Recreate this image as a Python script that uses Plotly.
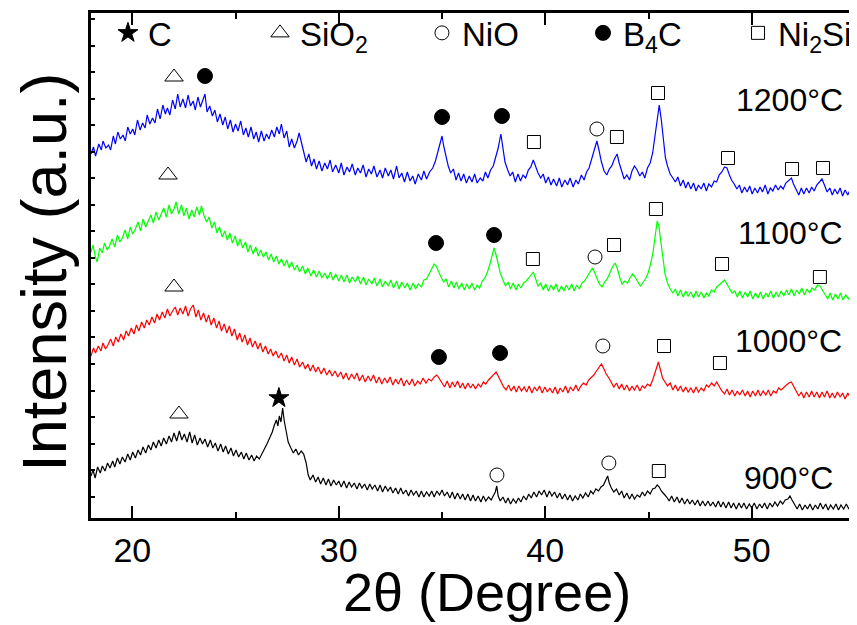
import plotly.graph_objects as go

# ---- XRD traces: (2theta in degrees, intensity in a.u.) ----
S1200 = [(18.00,364),(18.12,371),(18.22,362),(18.38,374),(18.50,368),(18.58,377),(18.72,370),(18.85,373),(18.95,368),(19.08,382),
(19.18,374),(19.30,386),(19.42,379),(19.55,383),(19.66,377),(19.78,391),(19.90,384),(20.02,389),(20.12,383),(20.25,398),
(20.38,388),(20.50,395),(20.62,390),(20.72,403),(20.85,394),(20.98,400),(21.10,395),(21.22,409),(21.35,399),(21.48,413),
(21.60,404),(21.70,410),(21.82,403),(21.95,418),(22.08,409),(22.20,424),(22.32,411),(22.45,419),(22.58,410),(22.70,423),
(22.82,412),(22.95,417),(23.05,408),(23.18,421),(23.30,411),(23.42,418),(23.52,424),(23.62,406),(23.75,412),(23.88,402),
(24.00,408),(24.12,396),(24.25,404),(24.38,393),(24.50,401),(24.62,389),(24.75,398),(24.88,386),(25.00,394),(25.12,387),
(25.25,397),(25.38,383),(25.50,390),(25.62,381),(25.75,391),(25.88,379),(26.00,386),(26.12,376),(26.25,387),(26.38,377),
(26.50,384),(26.62,379),(26.75,388),(26.88,381),(27.00,391),(27.12,384),(27.22,394),(27.35,380),(27.48,387),(27.60,371),
(27.72,379),(27.85,370),(27.98,377),(28.08,385),(28.20,374),(28.32,362),(28.42,356),(28.55,364),(28.68,352),(28.80,359),
(28.92,349),(29.05,357),(29.18,347),(29.32,355),(29.45,349),(29.58,358),(29.70,346),(29.85,353),(30.00,345),(30.12,355),
(30.25,343),(30.40,351),(30.52,346),(30.65,354),(30.80,343),(30.92,350),(31.05,345),(31.18,353),(31.32,341),(31.45,349),
(31.58,344),(31.70,352),(31.85,341),(32.00,348),(32.12,340),(32.25,350),(32.40,342),(32.52,348),(32.65,339),(32.80,352),
(32.92,340),(33.05,345),(33.18,336),(33.32,346),(33.45,337),(33.58,342),(33.70,334),(33.85,344),(34.00,338),(34.12,347),
(34.25,339),(34.40,346),(34.55,350),(34.68,357),(34.80,366),(34.90,374),(35.00,382),(35.08,372),(35.18,362),(35.30,352),
(35.42,345),(35.55,349),(35.68,338),(35.80,345),(35.92,337),(36.05,344),(36.18,335),(36.32,342),(36.45,336),(36.58,344),
(36.70,335),(36.85,340),(36.98,337),(37.10,346),(37.22,340),(37.35,348),(37.48,352),(37.60,360),(37.72,370),(37.85,384),
(37.95,368),(38.05,356),(38.18,348),(38.30,342),(38.42,346),(38.55,336),(38.68,344),(38.80,337),(38.92,343),(39.05,340),
(39.18,348),(39.30,351),(39.42,358),(39.52,352),(39.65,345),(39.78,340),(39.90,344),(40.02,335),(40.15,341),(40.28,333),
(40.40,339),(40.55,332),(40.68,340),(40.80,331),(40.95,338),(41.08,333),(41.20,340),(41.35,331),(41.48,338),(41.60,334),
(41.75,343),(41.88,338),(42.00,346),(42.12,350),(42.25,360),(42.38,370),(42.50,377),(42.60,368),(42.72,356),(42.85,347),
(42.98,343),(43.10,349),(43.22,352),(43.35,359),(43.48,364),(43.58,355),(43.70,346),(43.82,339),(43.95,343),(44.08,338),
(44.20,347),(44.32,352),(44.45,348),(44.58,342),(44.70,346),(44.82,340),(44.95,350),(45.08,355),(45.20,365),(45.32,382),
(45.42,400),(45.52,413),(45.62,398),(45.72,376),(45.82,360),(45.92,352),(46.05,344),(46.18,340),(46.30,336),(46.42,341),
(46.55,332),(46.68,338),(46.80,330),(46.92,336),(47.05,329),(47.18,335),(47.30,327),(47.42,333),(47.55,329),(47.68,335),
(47.80,327),(47.92,334),(48.05,331),(48.18,337),(48.30,336),(48.42,343),(48.55,346),(48.68,351),(48.80,350),(48.90,344),
(49.02,338),(49.15,334),(49.28,329),(49.40,333),(49.52,325),(49.65,331),(49.78,326),(49.90,332),(50.02,324),(50.15,330),
(50.28,325),(50.40,331),(50.52,326),(50.65,333),(50.78,324),(50.90,330),(51.02,327),(51.15,333),(51.28,328),(51.40,332),
(51.52,329),(51.65,335),(51.78,337),(51.92,340),(52.02,334),(52.15,328),(52.28,323),(52.40,330),(52.52,324),(52.65,330),
(52.78,325),(52.90,331),(53.02,327),(53.15,333),(53.28,336),(53.40,339),(53.52,333),(53.65,326),(53.78,330),(53.90,323),
(54.02,329),(54.15,324),(54.28,330),(54.40,322),(54.52,328),(54.65,323),(54.78,329),(54.90,325),(55.00,327)]

S1100 = [(18.00,266),(18.10,273),(18.20,262),(18.30,256),(18.42,270),(18.55,265),(18.65,275),(18.78,268),(18.90,272),(19.02,279),
(19.15,271),(19.28,283),(19.40,276),(19.52,280),(19.65,288),(19.78,279),(19.90,291),(20.02,284),(20.15,289),(20.28,296),
(20.40,287),(20.52,299),(20.65,291),(20.78,297),(20.90,303),(21.02,295),(21.15,306),(21.28,298),(21.40,304),(21.52,310),
(21.65,301),(21.78,313),(21.90,304),(22.02,309),(22.12,316),(22.25,304),(22.38,313),(22.50,302),(22.62,310),(22.75,299),
(22.88,308),(23.00,301),(23.12,311),(23.25,303),(23.35,312),(23.48,302),(23.60,296),(23.72,301),(23.85,290),(23.98,296),
(24.10,285),(24.22,291),(24.35,281),(24.48,287),(24.60,278),(24.72,285),(24.85,275),(24.98,282),(25.10,272),(25.22,279),
(25.35,270),(25.48,276),(25.60,266),(25.72,273),(25.85,264),(25.98,271),(26.10,262),(26.22,268),(26.35,261),(26.48,266),
(26.60,258),(26.72,264),(26.85,256),(26.98,262),(27.10,254),(27.22,259),(27.35,252),(27.48,258),(27.60,250),(27.72,256),
(27.85,248),(27.98,253),(28.10,246),(28.25,252),(28.38,244),(28.50,250),(28.65,242),(28.78,248),(28.92,241),(29.05,247),
(29.18,240),(29.32,245),(29.45,239),(29.60,246),(29.72,238),(29.85,244),(30.00,237),(30.12,243),(30.25,236),(30.40,243),
(30.52,235),(30.65,241),(30.80,236),(30.92,242),(31.05,234),(31.20,241),(31.32,233),(31.45,239),(31.60,234),(31.72,240),
(31.85,232),(32.00,239),(32.12,231),(32.25,237),(32.40,232),(32.52,238),(32.65,230),(32.80,237),(32.92,229),(33.05,236),
(33.20,230),(33.32,235),(33.45,228),(33.60,235),(33.72,229),(33.85,234),(34.00,231),(34.12,238),(34.25,239),(34.38,244),
(34.50,249),(34.62,254),(34.72,252),(34.82,247),(34.95,241),(35.08,236),(35.20,239),(35.32,231),(35.45,237),(35.58,230),
(35.70,236),(35.82,229),(35.95,235),(36.08,228),(36.20,234),(36.32,229),(36.45,235),(36.58,228),(36.70,233),(36.82,230),
(36.95,237),(37.08,240),(37.20,246),(37.32,254),(37.42,263),(37.52,270),(37.62,263),(37.72,254),(37.82,245),(37.95,238),
(38.08,232),(38.20,236),(38.32,229),(38.45,235),(38.58,228),(38.70,234),(38.82,230),(38.95,235),(39.08,237),(39.20,240),
(39.32,244),(39.42,246),(39.52,240),(39.65,232),(39.78,235),(39.90,228),(40.02,234),(40.15,227),(40.28,233),(40.40,228),
(40.52,234),(40.65,226),(40.78,232),(40.90,227),(41.02,233),(41.15,228),(41.28,234),(41.40,227),(41.52,233),(41.65,229),
(41.78,235),(41.90,237),(42.02,241),(42.15,245),(42.28,250),(42.38,246),(42.50,240),(42.62,234),(42.75,231),(42.88,236),
(43.00,239),(43.12,245),(43.25,251),(43.38,255),(43.48,250),(43.60,241),(43.72,234),(43.85,237),(43.98,235),(44.10,240),
(44.22,244),(44.35,241),(44.48,236),(44.60,232),(44.72,235),(44.85,239),(44.98,245),(45.10,254),(45.22,266),(45.32,282),
(45.42,297),(45.50,292),(45.60,276),(45.70,258),(45.80,244),(45.92,235),(46.05,229),(46.18,225),(46.30,229),(46.42,222),
(46.55,228),(46.68,221),(46.80,227),(46.92,222),(47.05,226),(47.18,220),(47.30,227),(47.42,221),(47.55,226),(47.68,220),
(47.80,225),(47.92,222),(48.05,228),(48.18,226),(48.30,231),(48.42,233),(48.55,236),(48.68,238),(48.80,234),(48.92,229),
(49.05,225),(49.18,227),(49.30,221),(49.42,227),(49.55,220),(49.68,226),(49.80,221),(49.92,227),(50.05,219),(50.18,225),
(50.30,220),(50.42,226),(50.55,219),(50.68,225),(50.80,221),(50.92,227),(51.05,220),(51.18,226),(51.30,221),(51.42,227),
(51.55,222),(51.68,228),(51.80,223),(51.92,229),(52.05,222),(52.18,228),(52.30,224),(52.42,230),(52.55,223),(52.68,229),
(52.80,225),(52.92,230),(53.05,228),(53.18,233),(53.30,232),(53.42,228),(53.55,223),(53.68,219),(53.80,225),(53.92,218),
(54.05,224),(54.18,219),(54.30,225),(54.42,218),(54.55,223),(54.68,219),(54.80,224),(54.92,219),(55.00,221)]

S1000 = [(18.00,162),(18.12,170),(18.22,165),(18.35,172),(18.48,167),(18.58,175),(18.70,169),(18.82,173),(18.95,179),(19.08,172),
(19.20,181),(19.32,176),(19.45,184),(19.58,178),(19.70,187),(19.82,182),(19.95,190),(20.08,184),(20.20,193),(20.32,187),
(20.45,196),(20.58,190),(20.70,198),(20.82,193),(20.95,201),(21.08,195),(21.20,204),(21.32,198),(21.45,206),(21.58,200),
(21.70,209),(21.82,202),(21.95,207),(22.08,211),(22.20,203),(22.32,210),(22.45,204),(22.58,212),(22.70,202),(22.82,209),
(22.95,213),(23.08,201),(23.20,208),(23.32,198),(23.45,205),(23.58,196),(23.70,203),(23.82,193),(23.95,200),(24.08,190),
(24.20,197),(24.32,187),(24.45,194),(24.58,185),(24.70,192),(24.82,182),(24.95,189),(25.08,178),(25.20,185),(25.32,176),
(25.45,183),(25.58,173),(25.70,180),(25.82,171),(25.95,177),(26.08,169),(26.20,175),(26.32,166),(26.45,172),(26.58,164),
(26.70,169),(26.82,162),(26.95,167),(27.08,160),(27.22,165),(27.35,157),(27.48,163),(27.60,155),(27.72,161),(27.85,153),
(27.98,159),(28.10,151),(28.25,156),(28.38,149),(28.50,154),(28.62,147),(28.75,153),(28.88,146),(29.00,151),(29.15,144),
(29.28,150),(29.42,143),(29.55,148),(29.68,142),(29.82,147),(29.95,141),(30.10,146),(30.22,139),(30.35,145),(30.48,138),
(30.62,144),(30.75,139),(30.88,145),(31.00,137),(31.15,143),(31.28,136),(31.42,142),(31.55,137),(31.68,143),(31.82,135),
(31.95,141),(32.08,134),(32.22,140),(32.35,135),(32.48,141),(32.62,133),(32.75,139),(32.88,134),(33.02,140),(33.15,132),
(33.28,138),(33.42,133),(33.55,139),(33.68,132),(33.82,137),(33.95,134),(34.08,140),(34.22,135),(34.35,139),(34.48,137),
(34.62,141),(34.75,143),(34.88,139),(35.00,135),(35.12,131),(35.25,137),(35.38,130),(35.50,136),(35.62,131),(35.75,137),
(35.88,130),(36.00,135),(36.12,129),(36.25,135),(36.38,130),(36.50,134),(36.62,129),(36.75,134),(36.88,131),(37.00,136),
(37.12,134),(37.25,138),(37.38,141),(37.50,144),(37.62,146),(37.72,142),(37.85,136),(37.98,131),(38.10,128),(38.22,133),
(38.35,127),(38.48,132),(38.60,126),(38.72,132),(38.85,127),(38.98,131),(39.10,126),(39.22,132),(39.35,125),(39.48,131),
(39.60,127),(39.72,132),(39.85,125),(39.98,131),(40.10,126),(40.22,130),(40.35,125),(40.48,131),(40.60,124),(40.72,130),
(40.85,126),(40.98,132),(41.10,125),(41.22,131),(41.35,127),(41.48,133),(41.60,127),(41.72,132),(41.85,135),(41.98,133),
(42.10,138),(42.22,140),(42.35,143),(42.48,147),(42.60,150),(42.72,154),(42.82,150),(42.95,144),(43.08,140),(43.20,135),
(43.32,131),(43.45,135),(43.58,129),(43.70,134),(43.82,128),(43.95,133),(44.08,127),(44.20,132),(44.32,128),(44.45,133),
(44.58,127),(44.70,132),(44.82,130),(44.95,134),(45.08,132),(45.20,138),(45.30,145),(45.40,152),(45.48,156),(45.58,148),
(45.68,140),(45.80,136),(45.92,132),(46.05,135),(46.18,128),(46.30,133),(46.42,127),(46.55,132),(46.68,126),(46.80,131),
(46.92,126),(47.05,130),(47.18,125),(47.30,131),(47.42,126),(47.55,130),(47.68,127),(47.80,133),(47.92,131),(48.05,135),
(48.18,132),(48.30,136),(48.42,131),(48.55,127),(48.68,124),(48.80,129),(48.92,123),(49.05,128),(49.18,122),(49.30,127),
(49.42,123),(49.55,128),(49.68,122),(49.80,127),(49.92,121),(50.05,127),(50.18,122),(50.30,128),(50.42,122),(50.55,127),
(50.68,123),(50.80,128),(50.92,122),(51.05,127),(51.18,125),(51.30,130),(51.42,128),(51.55,131),(51.68,133),(51.80,135),
(51.92,136),(52.02,132),(52.15,127),(52.28,122),(52.40,126),(52.52,120),(52.65,126),(52.78,121),(52.90,127),(53.02,121),
(53.15,126),(53.28,120),(53.40,126),(53.52,121),(53.65,127),(53.78,120),(53.90,125),(54.02,120),(54.15,126),(54.28,121),
(54.40,125),(54.52,119),(54.65,125),(54.78,120),(54.90,124),(55.00,122)]

S900 = [(18.00,42),(18.10,48),(18.20,40),(18.32,51),(18.45,45),(18.55,52),(18.68,47),(18.80,55),(18.92,50),(19.05,57),
(19.15,51),(19.28,60),(19.40,54),(19.52,61),(19.65,56),(19.78,64),(19.90,58),(20.02,66),(20.15,60),(20.28,68),
(20.40,63),(20.52,71),(20.65,65),(20.78,73),(20.90,68),(21.02,76),(21.15,70),(21.28,78),(21.40,72),(21.52,80),
(21.65,74),(21.78,82),(21.90,76),(22.02,85),(22.15,77),(22.28,87),(22.40,78),(22.52,84),(22.65,76),(22.78,86),
(22.90,75),(23.02,83),(23.15,73),(23.28,80),(23.40,74),(23.52,79),(23.65,71),(23.78,78),(23.90,70),(24.02,75),
(24.15,67),(24.28,74),(24.40,66),(24.52,72),(24.65,64),(24.78,70),(24.90,62),(25.02,68),(25.15,61),(25.28,66),
(25.40,59),(25.52,65),(25.65,58),(25.78,63),(25.90,57),(26.02,62),(26.15,59),(26.28,64),(26.40,68),(26.52,74),
(26.65,80),(26.78,86),(26.88,93),(26.98,98),(27.05,92),(27.12,102),(27.20,96),(27.28,110),(27.36,97),(27.45,86),
(27.55,76),(27.68,70),(27.80,65),(27.92,69),(28.05,63),(28.18,67),(28.30,64),(28.42,55),(28.52,43),(28.62,38),
(28.75,43),(28.88,36),(29.00,41),(29.12,34),(29.25,40),(29.38,33),(29.50,39),(29.62,32),(29.75,38),(29.88,33),
(30.00,37),(30.12,31),(30.25,37),(30.38,30),(30.50,36),(30.62,31),(30.75,35),(30.88,29),(31.00,35),(31.12,30),
(31.25,34),(31.38,28),(31.50,34),(31.62,29),(31.75,33),(31.88,27),(32.00,33),(32.12,26),(32.25,32),(32.38,27),
(32.50,31),(32.62,25),(32.75,30),(32.88,24),(33.00,30),(33.12,24),(33.25,28),(33.38,22),(33.50,28),(33.62,23),
(33.75,27),(33.88,21),(34.00,27),(34.12,21),(34.25,26),(34.38,22),(34.50,27),(34.62,21),(34.75,27),(34.88,23),
(35.00,28),(35.12,22),(35.25,26),(35.38,20),(35.50,26),(35.62,19),(35.75,25),(35.88,19),(36.00,24),(36.12,18),
(36.25,24),(36.38,17),(36.50,23),(36.62,17),(36.75,22),(36.88,16),(37.00,22),(37.12,17),(37.25,21),(37.38,18),
(37.50,23),(37.58,26),(37.65,32),(37.72,22),(37.82,17),(37.95,21),(38.08,15),(38.20,20),(38.32,14),(38.45,19),
(38.58,15),(38.70,20),(38.82,16),(38.95,22),(39.08,18),(39.20,24),(39.32,20),(39.45,26),(39.58,21),(39.70,27),
(39.82,23),(39.95,28),(40.08,21),(40.20,27),(40.32,22),(40.45,26),(40.58,20),(40.70,25),(40.82,19),(40.95,24),
(41.08,18),(41.20,23),(41.32,17),(41.45,22),(41.58,18),(41.70,24),(41.82,20),(41.95,25),(42.08,21),(42.20,27),
(42.32,24),(42.45,29),(42.58,27),(42.70,31),(42.82,33),(42.92,37),(43.02,42),(43.10,35),(43.20,30),(43.32,26),
(43.45,29),(43.58,23),(43.70,27),(43.82,20),(43.95,25),(44.08,19),(44.20,24),(44.32,19),(44.45,23),(44.58,21),
(44.70,26),(44.82,22),(44.95,27),(45.08,24),(45.20,29),(45.32,30),(45.42,33),(45.52,31),(45.62,27),(45.75,24),
(45.88,21),(46.00,17),(46.12,22),(46.25,16),(46.38,21),(46.50,15),(46.62,20),(46.75,14),(46.88,19),(47.00,14),
(47.12,18),(47.25,13),(47.38,18),(47.50,12),(47.62,17),(47.75,12),(47.88,17),(48.00,12),(48.12,16),(48.25,11),
(48.38,17),(48.50,11),(48.62,16),(48.75,10),(48.88,16),(49.00,10),(49.12,15),(49.25,9),(49.38,15),(49.50,10),
(49.62,15),(49.75,9),(49.88,14),(50.00,10),(50.12,15),(50.25,9),(50.38,14),(50.50,10),(50.62,15),(50.75,9),
(50.88,15),(51.00,11),(51.12,16),(51.25,12),(51.38,17),(51.50,14),(51.62,18),(51.75,19),(51.85,22),(51.95,18),
(52.08,13),(52.20,9),(52.32,14),(52.45,8),(52.58,13),(52.70,9),(52.82,14),(52.95,8),(53.08,13),(53.20,9),
(53.32,15),(53.45,9),(53.58,14),(53.70,8),(53.82,13),(53.95,9),(54.08,14),(54.20,8),(54.32,13),(54.45,9),
(54.58,14),(54.70,9),(54.82,13),(55.00,11)]

SERIES_LABELS = ["1200°C", "1100°C", "1000°C", "900°C"]
SERIES_COLORS = ["#0000FF", "#00FF00", "#FF0000", "#000000"]

# ---- phase identification marks above the peaks (2theta, height) ----
C_X = [27.10]
C_Y = [120]
SIO2_X = [22.02, 21.73, 22.02, 22.26]
SIO2_Y = [441, 343, 231, 104]
NIO_X = [42.50, 42.41, 42.79, 37.66, 43.08]
NIO_Y = [389, 261, 172, 43, 55]
B4C_X = [23.52, 35.00, 37.90, 34.71, 37.52, 34.85, 37.81]
B4C_Y = [442, 401, 402, 275, 283, 161, 165]
NI2SI_X = [39.45, 43.47, 45.46, 48.85, 51.95, 53.45, 39.40, 43.33, 45.36, 48.56, 53.30, 45.75, 48.46, 45.50]
NI2SI_Y = [376, 381, 425, 360, 349, 350, 259, 273, 309, 254, 241, 172, 155, 47]

PHASE_NAMES = ["C", "SiO<sub>2</sub>", "NiO", "B<sub>4</sub>C", "Ni<sub>2</sub>Si"]
X_TICKS = [20, 30, 40, 50]

FONT = "Liberation Sans, Arial, sans-serif"

fig = go.Figure()
for data, color in zip([S1200, S1100, S1000, S900], SERIES_COLORS):
    xs = [p[0] for p in data]
    ys = [p[1] for p in data]
    fig.add_trace(go.Scatter(x=xs, y=ys, mode="lines", line=dict(color=color, width=1.2),
                             showlegend=False, hoverinfo="skip"))

styles = [("star", 15), ("triangle-up-open", 16), ("circle-open", 14), ("circle", 15), ("square-open", 13)]
phase_xy = [(C_X, C_Y), (SIO2_X, SIO2_Y), (NIO_X, NIO_Y), (B4C_X, B4C_Y), (NI2SI_X, NI2SI_Y)]
legend_ids = ["legend", "legend2", "legend3", "legend4", "legend5"]
for name, (xs, ys), (sym, size), lid in zip(PHASE_NAMES, phase_xy, styles, legend_ids):
    fig.add_trace(go.Scatter(x=xs, y=ys, mode="markers", name=name, legend=lid,
                             marker=dict(symbol=sym, size=size, color="black",
                                         line=dict(width=1, color="black")),
                             cliponaxis=False))

legend_x = [0.0222, 0.2212, 0.4332, 0.6440, 0.8469]
legend_common = dict(orientation="h", y=1.016, xanchor="left", yanchor="top",
                     bgcolor="rgba(0,0,0,0)", borderwidth=0,
                     font=dict(family=FONT, size=33, color="black"), itemwidth=30)
legends = {lid: dict(x=lx, **legend_common) for lid, lx in zip(legend_ids, legend_x)}

label_pos = [(54.51, 418), (54.51, 285), (54.45, 177), (54.03, 40)]
for (lx, ly), txt in zip(label_pos, SERIES_LABELS):
    fig.add_annotation(x=lx, y=ly, text=txt, showarrow=False,
                       xanchor="right", yanchor="middle",
                       font=dict(family=FONT, size=32, color="black"))

# axis titles
fig.add_annotation(xref="paper", yref="paper", x=0.518, y=-0.146, text="2θ (Degree)",
                   showarrow=False, xanchor="center", yanchor="middle",
                   font=dict(family=FONT, size=54, color="black"))
fig.add_annotation(xref="paper", yref="paper", x=-0.062, y=0.487, text="Intensity (a.u.)",
                   showarrow=False, xanchor="center", yanchor="middle", textangle=-90,
                   font=dict(family=FONT, size=63, color="black"))

# the page body adds an 8 px offset, so the figure itself is 8 px smaller than the window
fig.update_layout(
    width=849, height=617,
    margin=dict(l=83, r=2, t=5, b=107, autoexpand=False),
    paper_bgcolor="white", plot_bgcolor="white",
    font=dict(family=FONT, color="black"),
    showlegend=True,
    **legends,
    xaxis=dict(range=[18, 55], tickvals=X_TICKS, ticktext=[str(v) for v in X_TICKS],
               ticks="inside", ticklen=12, tickwidth=2, tickcolor="black",
               minor=dict(dtick=5, tick0=0, ticks="inside", ticklen=6, tickwidth=2, tickcolor="black"),
               showline=True, linewidth=2.5, linecolor="black", mirror="ticks",
               showgrid=False, zeroline=False, automargin=False,
               tickfont=dict(family=FONT, size=34, color="black")),
    yaxis=dict(range=[0, 505], tick0=21.3, dtick=26.54, showticklabels=False,
               ticks="inside", ticklen=4, tickwidth=1.5, tickcolor="black",
               showline=True, linewidth=2.5, linecolor="black", mirror="ticks",
               showgrid=False, zeroline=False, automargin=False),
)

fig.write_html("out.html")
